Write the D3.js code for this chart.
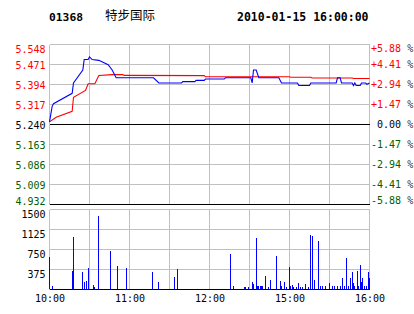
<!DOCTYPE html>
<html>
<head>
<meta charset="utf-8">
<script src="https://cdn.jsdelivr.net/npm/d3@7"></script>
<style>
  body { margin: 0; background: #fff; }
  text { font-family: "DejaVu Sans Mono", monospace; font-size: 10px; }
</style>
</head>
<body>
<div id="chart"></div>
<script>
// header
const stockCode = "01368",
      stockName = "特步国际",
      stamp = "2010-01-15 16:00:00";

// axis data
const prevClose = 5.240;
const priceTicks = [5.548, 5.471, 5.394, 5.317, 5.240, 5.163, 5.086, 5.009, 4.932];
const pctTicks = ["+5.88", "+4.41", "+2.94", "+1.47", " 0.00", "-1.47", "-2.94", "-4.41", "-5.88"];
const volTicks = [1500, 1125, 750, 375];
const timeLabels = ["10:00", "11:00", "12:00", "15:00", "16:00"];

// price line (minute, price)
const priceTimes = ["10:00", "10:02", "10:03", "10:17", "10:18", "10:25", "10:26", "10:29", "10:30",
                    "10:32", "10:37", "10:44", "10:47", "10:50", "11:18", "11:22", "11:39", "11:40",
                    "11:49", "11:50", "11:56", "11:57", "12:11", "12:12", "12:30", "14:31", "14:32",
                    "14:33", "14:35", "14:37", "14:52", "14:54", "15:06", "15:07", "15:15", "15:16",
                    "15:35", "15:36", "15:38", "15:39", "15:47", "15:48", "15:49", "15:50", "15:53",
                    "15:54", "15:57", "15:58", "16:00"];
const prices = [5.25, 5.31, 5.32, 5.36, 5.40, 5.45, 5.49, 5.49, 5.50,
                5.49, 5.487, 5.47, 5.45, 5.42, 5.42, 5.40, 5.40, 5.405,
                5.405, 5.41, 5.41, 5.415, 5.415, 5.42, 5.42, 5.42, 5.40,
                5.45, 5.45, 5.42, 5.42, 5.40, 5.40, 5.39, 5.39, 5.40,
                5.40, 5.42, 5.42, 5.40, 5.40, 5.39, 5.40, 5.39, 5.39,
                5.40, 5.40, 5.395, 5.40];

// average line
const avgTimes = ["10:00", "10:05", "10:17", "10:18", "10:27", "10:29", "10:34", "10:37", "10:47",
                  "10:55", "10:56", "11:56", "11:57", "15:00", "15:01", "15:16", "15:17", "15:47",
                  "15:48", "16:00"];
const avgPrices = [5.25, 5.268, 5.291, 5.345, 5.371, 5.397, 5.397, 5.429, 5.432,
                   5.432, 5.429, 5.428, 5.424, 5.424, 5.422, 5.422, 5.419, 5.419,
                   5.417, 5.417];

// volume bars
const volTimes = ["10:00", "10:02", "10:17", "10:18", "10:25", "10:26", "10:28", "10:29", "10:33",
                  "10:34", "10:37", "10:46", "10:51", "10:58", "11:17", "11:22", "11:34", "11:36",
                  "12:16", "12:18", "12:26", "12:27", "12:29", "14:32", "14:33", "14:35", "14:36",
                  "14:37", "14:38", "14:39", "14:40", "14:42", "14:44", "14:46", "14:50", "14:53",
                  "14:54", "14:56", "14:58", "15:00", "15:01", "15:02", "15:03", "15:05", "15:07",
                  "15:08", "15:10", "15:12", "15:14", "15:16", "15:17", "15:19", "15:22", "15:23",
                  "15:25", "15:27", "15:30", "15:32", "15:34", "15:36", "15:38", "15:40", "15:41",
                  "15:43", "15:44", "15:46", "15:47", "15:48", "15:49", "15:51", "15:52", "15:53",
                  "15:54", "15:55", "15:56", "15:58", "15:59", "16:00"];
const volumes = [594, 50, 344, 981, 313, 138, 156, 400, 81,
                 44, 1375, 719, 438, 400, 325, 138, 231, 375,
                 656, 63, 44, 44, 44, 138, 100, 950, 63,
                 63, 50, 50, 50, 250, 40, 175, 625, 156,
                 50, 138, 40, 419, 60, 80, 40, 40, 106,
                 40, 40, 94, 40, 1019, 988, 175, 906, 60,
                 60, 60, 106, 50, 50, 50, 50, 200, 60,
                 588, 50, 200, 313, 106, 60, 331, 60, 456,
                 125, 206, 60, 60, 313, 200];

// constants
const w = 414,
      h = 314,
      left = 49.5,
      right = 369.5,
      pTop = 44.5,
      pBot = 204.5,
      vTop = 209.5,
      vBot = 289.5;

// trading minutes since 10:00 (lunch 12:30 - 14:30 skipped)
function tradeMin(s) {
  const [hh, mm] = s.split(":").map(Number);
  const t = hh * 60 + mm;
  return t <= 750 ? t - 600 : t - 870 + 150;
}

const colorOf = (v) => v > prevClose + 1e-9 ? "#ff0000" : (v < prevClose - 1e-9 ? "#006000" : "#000");

let chart = d3.select("#chart")
              .append("svg")
              .attr("width", w)
              .attr("height", h);

let xScale = d3.scaleLinear().domain([0, 240]).range([left, right]);
let yScale = d3.scaleLinear().domain([4.932, 5.548]).range([pBot, pTop]);
let vScale = d3.scaleLinear().domain([0, 1500]).range([vBot, vTop]);

// header
chart.append("text").attr("x", 49).attr("y", 20.5)
     .style("font-weight", "bold").style("font-size", "11.3px")
     .text(stockCode);
chart.append("text").attr("x", 105).attr("y", 20)
     .style("font-family", "'Noto Sans CJK SC'").style("font-size", "12.5px")
     .text(stockName);
chart.append("text").attr("x", 237).attr("y", 20.5)
     .style("font-weight", "bold").style("font-size", "11.5px")
     .text(stamp);

// grid
const grid = chart.append("g").attr("shape-rendering", "crispEdges");
const xGrid = d3.range(0, 241, 30);
[[pTop, pBot], [vTop, vBot]].forEach(([t, b]) => {
  grid.append("g").selectAll("line").data(xGrid).enter().append("line")
      .attr("x1", (d) => xScale(d)).attr("x2", (d) => xScale(d))
      .attr("y1", t).attr("y2", b)
      .attr("stroke", "#c0c0c0");
});
grid.append("g").selectAll("line").data(priceTicks).enter().append("line")
    .attr("x1", left).attr("x2", right)
    .attr("y1", (d) => yScale(d)).attr("y2", (d) => yScale(d))
    .attr("stroke", (d, i) => (d === prevClose || i === priceTicks.length - 1) ? "#000" : "#c0c0c0");
grid.append("g").selectAll("line").data([...volTicks, 0]).enter().append("line")
    .attr("x1", left).attr("x2", right)
    .attr("y1", (d) => vScale(d)).attr("y2", (d) => vScale(d))
    .attr("stroke", (d) => d === 0 ? "#000" : "#c0c0c0");

// left price axis
let yAxis = d3.axisLeft(yScale).tickValues(priceTicks).tickSize(0).tickPadding(4)
              .tickFormat(d3.format(".3f"));
let gy = chart.append("g").attr("transform", `translate(${left}, 0)`).call(yAxis);
gy.select(".domain").remove();
gy.selectAll("text")
  .attr("fill", (d) => colorOf(d))
  .style("font-size", "10px").style("font-family", "'DejaVu Sans Mono', monospace")
  .attr("dy", (d, i) => i === 0 ? "0.75em" : (i === priceTicks.length - 1 ? "-0.05em" : "0.35em"));

// right percent axis
let gr = chart.append("g");
gr.selectAll("text").data(priceTicks).enter().append("text")
  .attr("x", 371)
  .attr("y", (d) => yScale(d))
  .attr("dy", (d, i) => i === 0 ? "0.75em" : (i === priceTicks.length - 1 ? "-0.05em" : "0.35em"))
  .attr("xml:space", "preserve")
  .each(function(d, i) {
    const t = d3.select(this);
    t.append("tspan").attr("fill", colorOf(d)).text(pctTicks[i]);
    t.append("tspan").attr("fill", "#333").text(" %");
  });

// volume axis
let vAxis = d3.axisLeft(vScale).tickValues(volTicks).tickSize(0).tickPadding(4)
              .tickFormat(d3.format("d"));
let gv = chart.append("g").attr("transform", `translate(${left}, 0)`).call(vAxis);
gv.select(".domain").remove();
gv.selectAll("text")
  .attr("fill", "#000")
  .style("font-size", "10px").style("font-family", "'DejaVu Sans Mono', monospace")
  .attr("dy", "0.75em");

// time axis
let xAxis = d3.axisBottom(xScale).tickValues(timeLabels.map(tradeMin)).tickSize(0).tickPadding(5)
              .tickFormat((d, i) => timeLabels[i]);
let gx = chart.append("g").attr("transform", `translate(0, ${vBot})`).call(xAxis);
gx.select(".domain").remove();
gx.selectAll("text")
  .attr("fill", "#000")
  .style("font-size", "10px").style("font-family", "'DejaVu Sans Mono', monospace");

// volume bars
chart.append("g").attr("shape-rendering", "crispEdges")
     .selectAll("rect").data(volumes).enter().append("rect")
     .attr("x", (d, i) => Math.floor(xScale(tradeMin(volTimes[i]))) + 0.2)
     .attr("y", (d) => vScale(d) - 0.5)
     .attr("width", 1)
     .attr("height", (d) => vBot - vScale(d))
     .attr("fill", "#0000ff");

// lines
let line = d3.line()
             .x((d) => xScale(tradeMin(d[0])))
             .y((d) => yScale(d[1]));
chart.append("path")
     .datum(avgTimes.map((t, i) => [t, avgPrices[i]]))
     .attr("d", line)
     .attr("fill", "none").attr("stroke", "#ff0000").attr("stroke-width", 1.1);
chart.append("path")
     .datum(priceTimes.map((t, i) => [t, prices[i]]))
     .attr("d", line)
     .attr("fill", "none").attr("stroke", "#0000ff").attr("stroke-width", 1.1);
</script>
</body>
</html>
